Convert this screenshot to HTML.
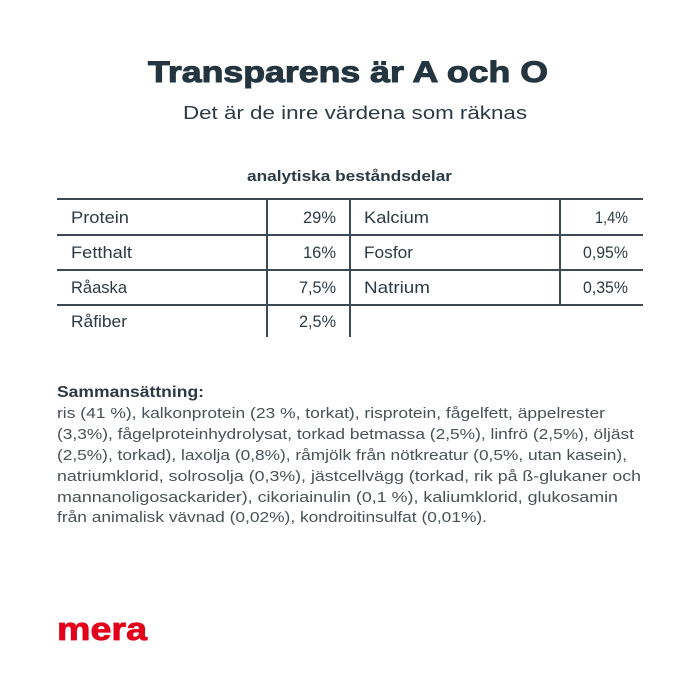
<!DOCTYPE html>
<html>
<head>
<meta charset="utf-8">
<style>
  html, body { margin: 0; padding: 0; background: #ffffff; }
  svg { display: block; }
  text { font-family: "Liberation Sans", sans-serif; }
</style>
</head>
<body>
<svg width="700" height="700" viewBox="0 0 700 700" xmlns="http://www.w3.org/2000/svg">
  <rect width="700" height="700" fill="#ffffff"/>

  <!-- Title -->
  <text x="148" y="82" font-size="30" font-weight="bold" fill="#243540" stroke="#243540" stroke-width="1" textLength="400" lengthAdjust="spacingAndGlyphs">Transparens är A och O</text>
  <text x="183" y="119" font-size="18" fill="#2e3a43" textLength="344" lengthAdjust="spacingAndGlyphs">Det är de inre värdena som räknas</text>
  <text x="247" y="181" font-size="15" font-weight="bold" fill="#2e3a43" textLength="205" lengthAdjust="spacingAndGlyphs">analytiska beståndsdelar</text>

  <!-- Table lines -->
  <g stroke="#3d4a53" stroke-width="2" fill="none">
    <line x1="57" y1="199" x2="643" y2="199"/>
    <line x1="57" y1="235" x2="643" y2="235"/>
    <line x1="57" y1="270" x2="643" y2="270"/>
    <line x1="57" y1="305" x2="643" y2="305"/>
    <line x1="267" y1="199" x2="267" y2="337"/>
    <line x1="350" y1="199" x2="350" y2="337"/>
    <line x1="560" y1="199" x2="560" y2="305"/>
  </g>

  <!-- Table text -->
  <g font-size="17" fill="#2e3a43">
    <text x="71" y="223" textLength="58" lengthAdjust="spacingAndGlyphs">Protein</text>
    <text x="71" y="258" textLength="61" lengthAdjust="spacingAndGlyphs">Fetthalt</text>
    <text x="71" y="293" textLength="56" lengthAdjust="spacingAndGlyphs">Råaska</text>
    <text x="71" y="327" textLength="56" lengthAdjust="spacingAndGlyphs">Råfiber</text>

    <text x="303" y="223" textLength="33" lengthAdjust="spacingAndGlyphs">29%</text>
    <text x="303" y="258" textLength="33" lengthAdjust="spacingAndGlyphs">16%</text>
    <text x="299" y="293" textLength="37" lengthAdjust="spacingAndGlyphs">7,5%</text>
    <text x="299" y="327" textLength="37" lengthAdjust="spacingAndGlyphs">2,5%</text>

    <text x="364" y="223" textLength="65" lengthAdjust="spacingAndGlyphs">Kalcium</text>
    <text x="364" y="258" textLength="49" lengthAdjust="spacingAndGlyphs">Fosfor</text>
    <text x="364" y="293" textLength="66" lengthAdjust="spacingAndGlyphs">Natrium</text>

    <text x="595" y="223" textLength="33" lengthAdjust="spacingAndGlyphs">1,4%</text>
    <text x="583" y="258" textLength="45" lengthAdjust="spacingAndGlyphs">0,95%</text>
    <text x="583" y="293" textLength="45" lengthAdjust="spacingAndGlyphs">0,35%</text>
  </g>

  <!-- Composition -->
  <text x="57" y="397" font-size="16" font-weight="bold" fill="#2e3a43" textLength="147" lengthAdjust="spacingAndGlyphs">Sammansättning:</text>
  <g font-size="15" fill="#4a5157">
    <text x="57" y="418" textLength="548" lengthAdjust="spacingAndGlyphs">ris (41 %), kalkonprotein (23 %, torkat), risprotein, fågelfett, äppelrester</text>
    <text x="57" y="439" textLength="577" lengthAdjust="spacingAndGlyphs">(3,3%), fågelproteinhydrolysat, torkad betmassa (2,5%), linfrö (2,5%), öljäst</text>
    <text x="57" y="460" textLength="570" lengthAdjust="spacingAndGlyphs">(2,5%), torkad), laxolja (0,8%), råmjölk från nötkreatur (0,5%, utan kasein),</text>
    <text x="57" y="481" textLength="584" lengthAdjust="spacingAndGlyphs">natriumklorid, solrosolja (0,3%), jästcellvägg (torkad, rik på ß-glukaner och</text>
    <text x="57" y="502" textLength="561" lengthAdjust="spacingAndGlyphs">mannanoligosackarider), cikoriainulin (0,1 %), kaliumklorid, glukosamin</text>
    <text x="57" y="522" textLength="430" lengthAdjust="spacingAndGlyphs">från animalisk vävnad (0,02%), kondroitinsulfat (0,01%).</text>
  </g>

  <!-- Logo -->
  <text x="57" y="640" font-size="32" font-weight="bold" fill="#e2001a" stroke="#e2001a" stroke-width="0.8" textLength="90" lengthAdjust="spacingAndGlyphs">mera</text>
</svg>
</body>
</html>
